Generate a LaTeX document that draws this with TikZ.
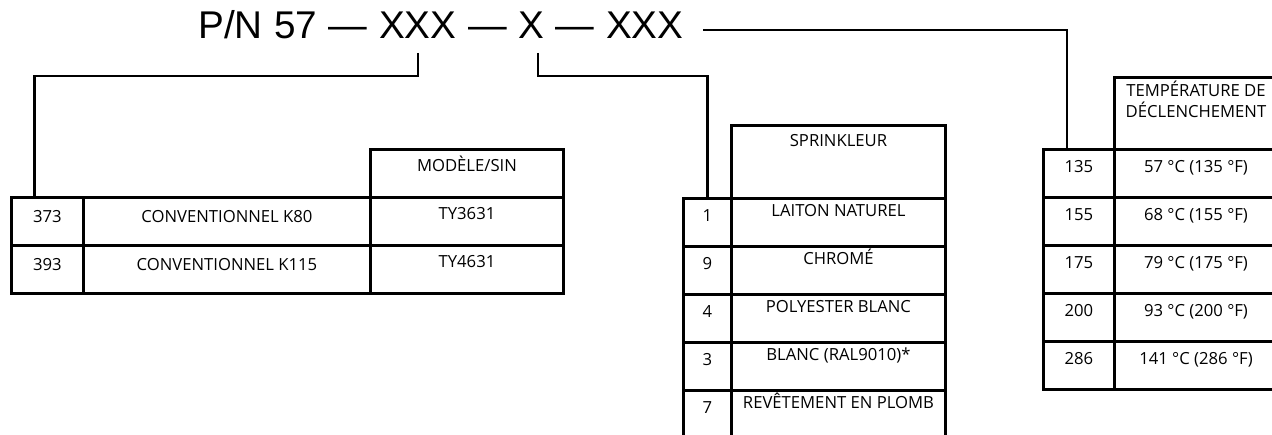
\documentclass[tikz,border=0pt]{standalone}
\usepackage{fontspec}
\setmainfont{Open Sans}
\newfontfamily\pnfont{Liberation Sans}
\usetikzlibrary{calc}
\newcommand\cellfont{\fontsize{12.5}{12.75}\selectfont}
\tikzset{
    % Table cells (text sits near the top of each cell)
    cell/.style={draw, line width=2.2pt, inner sep=0pt, anchor=north west, minimum height=36pt, font=\cellfont},
    base25/.style={text height=18.75pt, text depth=17.25pt},
    base23/.style={text height=17.25pt, text depth=18.75pt},
    base22/.style={text height=16.5pt, text depth=19.5pt},
    base18/.style={text height=13.5pt, text depth=22.5pt},
    % Part number and its connectors
    pn/.style={font=\pnfont\fontsize{29}{30}\selectfont, inner sep=0pt, anchor=base west},
    link/.style={draw, line width=1.9pt}
}

\begin{document}
\begin{tikzpicture}[x=0.75pt, y=-0.75pt]
    \useasboundingbox (0,0) rectangle (1272,435);
    \clip (0,0) rectangle (1272,435);

    % Part number
    \node[pn] (pn) at (198,39) {\spaceskip=0.3em P/N 57 — XXX — X — XXX};
    \coordinate (pnA) at (418,53);
    \coordinate (pnB) at (538,53);
    \coordinate (pnC) at (703,30);

    % Model table
    \node[cell, base22, minimum width=144.75pt] (hmod) at (369,148) {MODÈLE/SIN};
    \node[cell, base25, minimum width=54pt] (c373) at (10,196) {373};
    \node[cell, base25, minimum width=215.25pt] (k80) at (82,196) {CONVENTIONNEL K80};
    \node[cell, base22, minimum width=144.75pt] (ty3) at (369,196) {TY3631};
    \node[cell, base25, minimum width=54pt] (c393) at (10,244) {393};
    \node[cell, base25, minimum width=215.25pt] (k115) at (82,244) {CONVENTIONNEL K115};
    \node[cell, base22, minimum width=144.75pt] (ty4) at (369,244) {TY4631};

    % Finish table
    \node[cell, minimum width=160.5pt, minimum height=54.75pt, text height=15.75pt, text depth=39pt] (hspr) at (730,124) {SPRINKLEUR};
    \node[cell, base23, minimum width=36pt] (c1) at (682,197) {1};
    \node[cell, base18, minimum width=160.5pt] (fin1) at (730,197) {LAITON NATUREL};
    \node[cell, base23, minimum width=36pt] (c9) at (682,245) {9};
    \node[cell, base18, minimum width=160.5pt] (fin9) at (730,245) {CHROMÉ};
    \node[cell, base23, minimum width=36pt] (c4) at (682,293) {4};
    \node[cell, base18, minimum width=160.5pt] (fin4) at (730,293) {POLYESTER BLANC};
    \node[cell, base23, minimum width=36pt] (c3) at (682,341) {3};
    \node[cell, base18, minimum width=160.5pt] (fin3) at (730,341) {BLANC (RAL9010)*};
    \node[cell, base23, minimum width=36pt] (c7) at (682,389) {7};
    \node[cell, base18, minimum width=160.5pt] (fin7) at (730,389) {REVÊTEMENT EN PLOMB};

    % Temperature table
    \node[cell, minimum width=122.25pt, minimum height=54pt, text height=14.25pt, text depth=39.75pt] (htemp) at (1113,76) {\begin{tabular}[t]{@{}c@{}}TEMPÉRATURE DE\\DÉCLENCHEMENT\end{tabular}};
    \node[cell, base23, minimum width=53.25pt] (c135) at (1042,148) {135};
    \node[cell, base23, minimum width=122.25pt] (t135) at (1113,148) {57 °C (135 °F)};
    \node[cell, base23, minimum width=53.25pt] (c155) at (1042,196) {155};
    \node[cell, base23, minimum width=122.25pt] (t155) at (1113,196) {68 °C (155 °F)};
    \node[cell, base23, minimum width=53.25pt] (c175) at (1042,244) {175};
    \node[cell, base23, minimum width=122.25pt] (t175) at (1113,244) {79 °C (175 °F)};
    \node[cell, base23, minimum width=53.25pt] (c200) at (1042,292) {200};
    \node[cell, base23, minimum width=122.25pt] (t200) at (1113,292) {93 °C (200 °F)};
    \node[cell, base23, minimum width=53.25pt] (c286) at (1042,340) {286};
    \node[cell, base23, minimum width=122.25pt] (t286) at (1113,340) {141 °C (286 °F)};

    % Connectors
    \draw[link] (pnA) -- ++(0,23) -| ($(c373.north west)!0.33!(c373.north east)$);
    \draw[link] (pnB) -- ++(0,23) -| (c1.north);
    \draw[link] (pnC) -| ($(c135.north west)!0.34!(c135.north east)$);
\end{tikzpicture}
\end{document}
